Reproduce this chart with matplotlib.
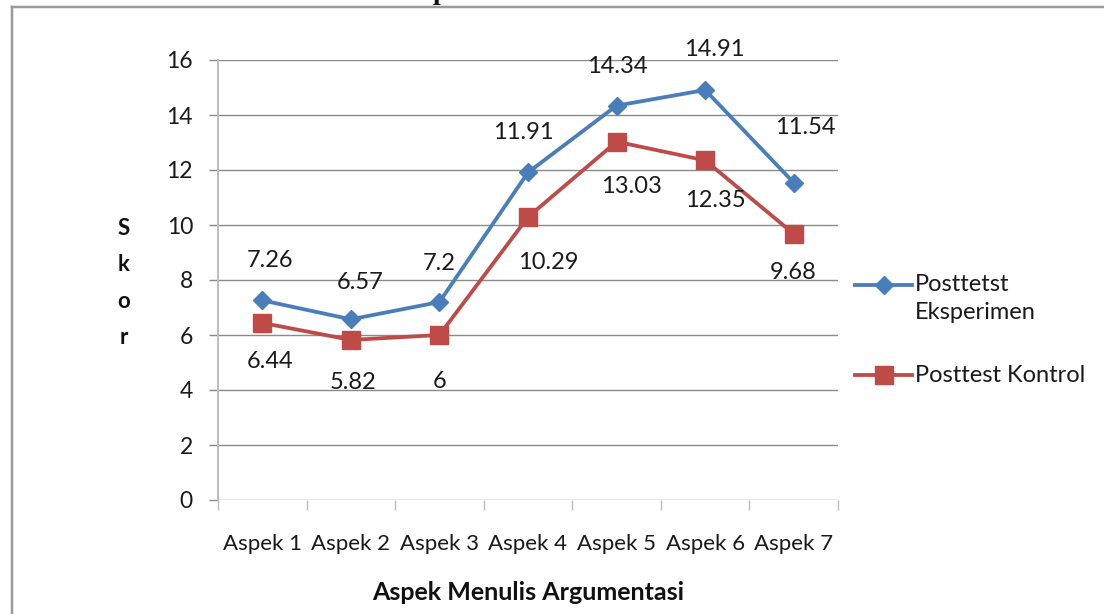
import matplotlib
matplotlib.use("Agg")
import matplotlib.pyplot as plt
from matplotlib.lines import Line2D
from matplotlib.ticker import FixedLocator

# Scores per writing aspect
aspects = ["Aspek 1", "Aspek 2", "Aspek 3", "Aspek 4", "Aspek 5", "Aspek 6", "Aspek 7"]
eksperimen = [7.26, 6.57, 7.2, 11.91, 14.34, 14.91, 11.54]
kontrol = [6.44, 5.82, 6, 10.29, 13.03, 12.35, 9.68]
eks_labels = ["7.26", "6.57", "7.2", "11.91", "14.34", "14.91", "11.54"]
kon_labels = ["6.44", "5.82", "6", "10.29", "13.03", "12.35", "9.68"]
yticks = [0, 2, 4, 6, 8, 10, 12, 14, 16]

# Label placement (pixel offsets from each marker)
eks_off = [(8, 40), (9, 37), (0, 39), (-5, 40), (1, 39), (9, 40), (12, 55)]
kon_off = [(8, -39), (2, -43), (0, -47), (20, -45), (15, -45), (10, -40), (-1, -39)]

BLUE = "#4A7EBB"
RED = "#BE4B48"
FONT = "Lato"
PX = 72 / 100  # points per pixel at dpi 100

fig = plt.figure(figsize=(11.04, 6.14), dpi=100)
W, H = 1104, 614
ax = fig.add_axes([218 / W, 1 - 500 / H, (838 - 218) / W, (500 - 60) / H])

x = list(range(len(aspects)))
ax.plot(x, eksperimen, color=BLUE, lw=3.8 * PX, marker="D",
        markersize=13 * PX, markerfacecolor=BLUE, markeredgecolor=BLUE, zorder=4,
        solid_joinstyle="round")
ax.plot(x, kontrol, color=RED, lw=3.8 * PX, marker="s",
        markersize=18 * PX, markerfacecolor=RED, markeredgecolor=RED, zorder=3,
        solid_joinstyle="round")

for xi, v, t, (dx, dy) in zip(x, eksperimen, eks_labels, eks_off):
    ax.annotate(t, (xi, v), xytext=(dx * PX, dy * PX), textcoords="offset points",
                ha="center", va="center", fontsize=17, family=FONT, color="#1a1a1a")
for xi, v, t, (dx, dy) in zip(x, kontrol, kon_labels, kon_off):
    ax.annotate(t, (xi, v), xytext=(dx * PX, dy * PX), textcoords="offset points",
                ha="center", va="center", fontsize=17, family=FONT, color="#1a1a1a")

ax.set_xlim(-0.5, len(aspects) - 0.5)
ax.set_ylim(0, 16)
ax.yaxis.set_major_locator(FixedLocator(yticks))
ax.grid(axis="y", color="#8a8a8a", lw=1.4 * PX)
ax.set_axisbelow(True)

for s in ["top", "right", "bottom"]:
    ax.spines[s].set_visible(False)
ax.spines["left"].set_color("#BDBDBD")
ax.spines["left"].set_linewidth(2 * PX)
ax.spines["left"].set_bounds(0, 16)

ax.tick_params(axis="y", length=9 * PX, width=1.4 * PX, color="#8a8a8a",
               pad=16 * PX, labelsize=16.5, labelcolor="#1a1a1a")
for lab in ax.get_yticklabels():
    lab.set_family(FONT)

ax.set_xticks(x)
ax.set_xticklabels(aspects, family=FONT, fontsize=16, color="#1a1a1a")
ax.set_xticks([i - 0.5 for i in range(len(aspects) + 1)], minor=True)
ax.tick_params(axis="x", which="major", length=0, pad=34 * PX)
ax.tick_params(axis="x", which="minor", length=10 * PX, width=1.4 * PX,
               color="#BDBDBD", direction="out")

fig.text(124 / W, 1 - 283 / H, "S\nk\no\nr", ha="center", va="center",
         fontsize=16, fontweight="bold", family=FONT, linespacing=1.9, color="#111111")
fig.text(528 / W, 1 - 593 / H, "Aspek Menulis Argumentasi", ha="center", va="center",
         fontsize=18, fontweight="bold", family=FONT, color="#111111")

# Legend drawn by hand to keep the wrapped entry layout
leg_items = [(BLUE, "D", 13, "Posttetst\nEksperimen", 285), (RED, "s", 18, "Posttest Kontrol", 375)]
for col, mk, ms, txt, ypx in leg_items:
    yf = 1 - ypx / H
    fig.add_artist(Line2D([855 / W, 912 / W], [yf, yf], color=col, lw=3.8 * PX,
                          transform=fig.transFigure))
    fig.add_artist(Line2D([883.5 / W], [yf], color=col, marker=mk, markersize=ms * PX,
                          transform=fig.transFigure))
    fig.text(915 / W, yf + (11 / H if "\n" in txt else 0), txt, ha="left",
             va="top" if "\n" in txt else "center", fontsize=17, family=FONT,
             linespacing=1.4, color="#1a1a1a")

# Outer frame
fig.add_artist(Line2D([12 / W, 1.0], [1 - 7 / H, 1 - 7 / H], color="#9A9A9A",
                      lw=2.5 * PX, transform=fig.transFigure))
fig.add_artist(Line2D([12 / W, 12 / W], [1 - 7 / H, 0], color="#9A9A9A",
                      lw=2.5 * PX, transform=fig.transFigure))
# Page heading running off the top edge
fig.text(440 / W, 1 + 1 / H, "p", ha="center", va="baseline", fontsize=20,
         fontweight="bold", family="Liberation Serif", color="#111111")

fig.savefig("out.png", dpi=100)
